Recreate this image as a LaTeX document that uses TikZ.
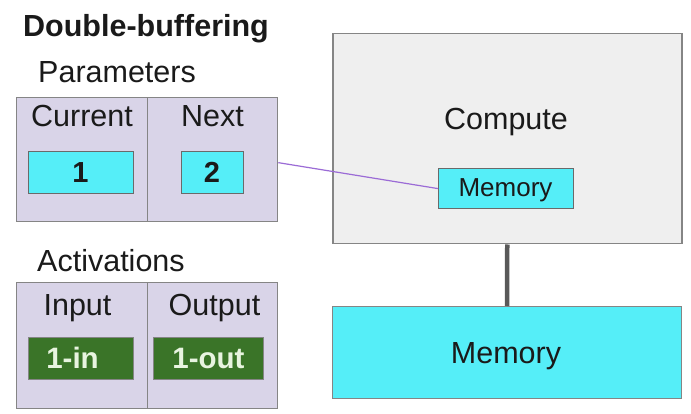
\documentclass[tikz,border=0pt]{standalone}
\usepackage{fontspec}
\setmainfont{Liberation Sans}
\definecolor{lav}{HTML}{D9D4E8}
\definecolor{cyanbox}{HTML}{55EEF8}
\definecolor{grnbox}{HTML}{3A7428}
\definecolor{grntxt}{HTML}{E8F4E0}
\definecolor{cmpfill}{HTML}{EFEFEF}
\definecolor{bordergray}{HTML}{858585}
\definecolor{purp}{HTML}{9B6BD6}
\definecolor{txt}{HTML}{1A1A1A}
\begin{document}
\begin{tikzpicture}[x=1pt,y=-1pt,
  panel/.style={draw=bordergray, line width=1.3pt, fill=lav, anchor=north west, inner sep=0pt},
  cbox/.style={draw=bordergray!80!black, line width=1.2pt, fill=cyanbox, anchor=north west, inner sep=0pt},
  gbox/.style={draw=bordergray, line width=1.2pt, fill=grnbox, anchor=north west, inner sep=0pt},
  lbl/.style={anchor=base, inner sep=0pt, text=txt, font=\fontsize{30.5}{30}\selectfont},
  blbl/.style={anchor=base, inner sep=0pt, text=txt, font=\fontsize{29}{29}\selectfont\bfseries},
  glbl/.style={anchor=base, inner sep=0pt, text=grntxt, font=\fontsize{29.5}{29}\selectfont\bfseries}
]
\useasboundingbox (0,0) rectangle (691,414);
\fill[white] (0,0) rectangle (691,414);

% title and group labels
\node[anchor=base west, inner sep=0pt, text=txt, font=\fontsize{30.5}{30}\selectfont\bfseries] (title) at (23,37) {Double-buffering};
\node[anchor=base west, inner sep=0pt, text=txt, font=\fontsize{30.5}{30}\selectfont] (plabel) at (38,83) {Parameters};
\node[anchor=base west, inner sep=0pt, text=txt, font=\fontsize{30.5}{30}\selectfont] (alabel) at (37,271.5) {Activations};

% parameters panel
\node[panel, minimum width=131pt, minimum height=124pt] (paramL) at (16,97) {};
\node[panel, minimum width=130pt, minimum height=124pt] (paramR) at (147,97) {};
\node[lbl] (cur) at (82,127) {Current};
\node[lbl] (nxt) at (212.5,127) {Next};
\node[cbox, minimum width=105pt, minimum height=42pt] (one) at (28,151) {};
\node[cbox, minimum width=62pt, minimum height=42pt] (two) at (181,151) {};
\node[blbl] (onet) at (80.5,183) {1};
\node[blbl] (twot) at (212,183) {2};

% activations panel
\node[panel, minimum width=131pt, minimum height=126pt] (actL) at (16,282) {};
\node[panel, minimum width=130pt, minimum height=126pt] (actR) at (147,282) {};
\node[lbl] (inp) at (77.5,315) {Input};
\node[lbl] (outp) at (214.5,315) {Output};
\node[gbox, minimum width=105pt, minimum height=42pt] (inbox) at (28,337) {};
\node[gbox, minimum width=110pt, minimum height=42pt] (outbox) at (153,337) {};
\node[glbl] (int) at (72.5,368) {1-in};
\node[glbl] (outt) at (208.5,368) {1-out};

% compute
\node[draw=bordergray, line width=1.5pt, fill=cmpfill, anchor=north west, inner sep=0pt, minimum width=349pt, minimum height=210pt] (compute) at (332,33) {};
\node[lbl] (cmpt) at (506,130) {Compute};
\node[cbox, minimum width=135pt, minimum height=40pt] (mem1) at (438,168) {};
\node[anchor=base, inner sep=0pt, text=txt, font=\fontsize{26}{26}\selectfont] (mem1t) at (505.5,196.5) {Memory};

% main memory
\node[draw=bordergray, line width=1.3pt, fill=cyanbox, anchor=north west, inner sep=0pt, minimum width=349pt, minimum height=92pt] (mem2) at (332,306) {};
\node[lbl] (mem2t) at (506,363) {Memory};

% connectors
\draw[purp, line width=1.2pt] ([yshift=-3pt]paramR.east) -- (mem1.west);
\draw[draw=black!65, line width=4.5pt] (compute.south) -- (mem2.north);
\end{tikzpicture}
\end{document}
